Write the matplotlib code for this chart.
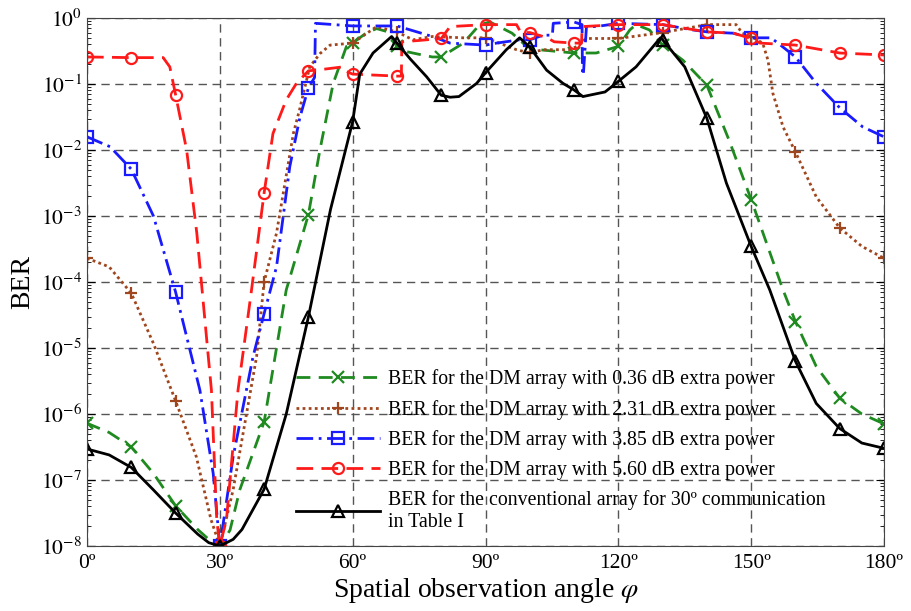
import numpy as np
import matplotlib
matplotlib.use('Agg')
import matplotlib.pyplot as plt

# angles in degrees, BER as log10 values
conv_x = [0, 5, 10, 15, 20, 25, 27.5, 30, 33, 35, 40, 45, 50, 55, 60, 61.6, 64.6, 68.8, 70, 73, 76.7, 80,
          82, 84, 88, 90, 94.7, 97.7, 100, 103.8, 107.5, 110, 112, 117, 120, 124, 129.5, 130, 135, 140,
          144.4, 150, 154.2, 160, 164.7, 170, 175, 180]
conv_log = [-6.53, -6.62, -6.81, -7.15, -7.5, -7.82, -7.95, -8.0, -7.9, -7.75, -7.14, -6.0, -4.53, -2.9,
            -1.57, -0.85, -0.53, -0.28, -0.38, -0.62, -0.89, -1.17, -1.2, -1.19, -0.99, -0.83, -0.48, -0.3,
            -0.44, -0.79, -0.99, -1.09, -1.19, -1.12, -0.96, -0.74, -0.3, -0.33, -0.74, -1.52, -2.5, -3.46,
            -4.12, -5.2, -5.84, -6.22, -6.44, -6.52]

dm036_x = [0, 5, 10, 15, 20, 25, 28, 30, 32.3, 34.5, 40, 45, 50, 52.6, 55.6, 58.6, 60, 63, 65.4, 68, 70,
           72.2, 75, 78, 80, 85, 88.7, 91, 96, 99.3, 102, 110, 115, 120, 122.6, 124, 127, 130, 134.6, 140,
           145, 150, 157.2, 160, 164.7, 170, 175, 180]
dm036_log = [-6.14, -6.28, -6.5, -6.9, -7.39, -7.75, -7.93, -8.0, -7.76, -7.15, -6.12, -4.12, -2.98, -2.0,
             -0.99, -0.43, -0.38, -0.23, -0.16, -0.21, -0.43, -0.51, -0.55, -0.59, -0.59, -0.38, -0.1,
             -0.06, -0.23, -0.43, -0.48, -0.53, -0.53, -0.43, -0.18, -0.1, -0.18, -0.41, -0.64, -1.02,
             -1.85, -2.75, -4.12, -4.6, -5.28, -5.76, -6.0, -6.15]

dm231_x = [0, 5, 10, 15, 20, 24.7, 28, 30, 33, 38.3, 40, 42.8, 46.6, 48, 50.3, 52.6, 54.9, 60, 65.4, 70,
           73.6, 78, 85, 90, 97, 100, 103, 109, 111, 112.8, 120, 130, 140, 146.6, 148, 150, 152.6, 153.8,
           154.9, 157.2, 160, 164.7, 170, 175, 180]
dm231_log = [-3.64, -3.77, -4.17, -4.93, -5.8, -6.65, -7.6, -8.0, -7.15, -5.13, -4.0, -3.26, -1.75, -1.39,
             -0.74, -0.54, -0.41, -0.38, -0.13, -0.21, -0.33, -0.28, -0.3, -0.3, -0.48, -0.53, -0.48, -0.48,
             -0.42, -0.31, -0.31, -0.22, -0.1, -0.1, -0.23, -0.28, -0.38, -0.64, -1.14, -1.65, -2.03, -2.71,
             -3.18, -3.46, -3.64]

dm385_x = [0, 5.2, 10, 15, 20, 25.5, 28.5, 30, 33, 37.5, 40, 42.8, 45.8, 48.1, 50, 51.4, 51.6, 60, 70, 73,
           78, 82, 90, 92.5, 97.7, 100, 103, 105.1, 105.3, 110, 111.8, 111.9, 112.1, 112.8, 115, 120, 130,
           136.8, 140, 145.9, 150, 154.5, 157, 160, 164.7, 170, 175.2, 180]
dm385_log = [-1.8, -1.95, -2.29, -3.0, -4.15, -5.64, -6.9, -8.0, -6.65, -5.13, -4.48, -3.77, -2.25, -1.5,
             -1.06, -0.9, -0.08, -0.12, -0.12, -0.18, -0.28, -0.38, -0.41, -0.38, -0.33, -0.33, -0.26, -0.26,
             -0.08, -0.06, -0.1, -0.86, -0.86, -0.13, -0.13, -0.08, -0.1, -0.18, -0.21, -0.23, -0.3, -0.3,
             -0.43, -0.59, -0.99, -1.36, -1.65, -1.8]

dm560_x = [0, 10, 17.2, 18.7, 20, 22.5, 24.8, 26.2, 28.1, 29.3, 30, 31.5, 34.1, 37, 40, 42, 45, 47.3, 50,
           53, 57.8, 58.6, 60, 70, 71, 71.1, 75, 80, 82, 90, 97, 98, 100, 104, 105.5, 110, 111.7, 111.8,
           120, 130, 140, 146, 150, 152, 160, 170, 180]
dm560_log = [-0.59, -0.6, -0.6, -0.74, -1.16, -2.0, -3.26, -4.27, -5.64, -7.6, -8.0, -7.6, -5.64, -4.2,
             -2.65, -1.75, -1.24, -0.99, -0.8, -0.78, -0.74, -0.81, -0.85, -0.88, -0.88, -0.36, -0.34, -0.31,
             -0.13, -0.1, -0.1, -0.22, -0.22, -0.3, -0.36, -0.38, -0.38, -0.13, -0.1, -0.1, -0.21, -0.23,
             -0.31, -0.38, -0.41, -0.53, -0.56]

labels = ['BER for the DM array with 0.36 dB extra power',
          'BER for the DM array with 2.31 dB extra power',
          'BER for the DM array with 3.85 dB extra power',
          'BER for the DM array with 5.60 dB extra power',
          'BER for the conventional array for 30\u00ba communication\nin Table I']

xticks = [0, 30, 60, 90, 120, 150, 180]

plt.rcParams['font.family'] = ['Liberation Serif', 'DejaVu Serif']
plt.rcParams['mathtext.fontset'] = 'stix'

fig = plt.figure(figsize=(9.12, 6.11), dpi=100)
ax = fig.add_axes([0.0954, 0.1064, 0.8739, 0.8641])


def every10(xs):
    # markers only at the 10 degree steps
    return [i for i, v in enumerate(xs) if abs(v % 10) < 1e-9]


series = [
    (dm036_x, dm036_log, '#1f8a1f', (0, (5, 3)), 'x', labels[0]),
    (dm231_x, dm231_log, '#a0461e', (0, (1, 1.2)), '+', labels[1]),
    (dm385_x, dm385_log, '#1a1aff', (0, (6, 2, 1, 2)), 's', labels[2]),
    (dm560_x, dm560_log, '#ff1a1a', (0, (6, 3)), 'o', labels[3]),
    (conv_x, conv_log, 'black', '-', '^', labels[4]),
]

for xs, ls_, col, style, mk, lab in series:
    ax.plot(xs, 10.0 ** np.array(ls_), color=col, linestyle=style, linewidth=2.0,
            marker=mk, markevery=every10(xs), markersize=8, markerfacecolor='none',
            markeredgewidth=1.6, label=lab)

ax.set_yscale('log')
ax.set_xlim(0, 180)
ax.set_ylim(1e-8, 1)
ax.set_xticks(xticks)
ax.set_xticklabels([f'{t}\u00ba' for t in xticks])
ax.set_yticks([10.0 ** -k for k in range(8, -1, -1)])
ax.set_yticklabels([f'$10^{{{-k}}}$' if k else '$10^{0}$' for k in range(8, -1, -1)])
ax.tick_params(axis='both', which='both', direction='in', labelsize=15.5, right=True)
ax.tick_params(axis='x', which='major', length=0, pad=6)
ax.tick_params(axis='y', which='major', length=6)
ax.tick_params(axis='y', which='minor', length=3)
ax.grid(True, which='major', color='#555555', linestyle=(0, (6, 4)), linewidth=1.0)
for sp in ax.spines.values():
    sp.set_color('#444444')

ax.set_xlabel('Spatial observation angle $\\varphi$', fontsize=20, labelpad=2)
ax.set_ylabel('BER', fontsize=20, labelpad=4)

ax.legend(loc='lower left', bbox_to_anchor=(0.245, 0.0), frameon=False, fontsize=14.3,
          handlelength=4.2, handletextpad=0.4, labelspacing=0.52, borderaxespad=0.3)

fig.savefig('out.png', dpi=100)
